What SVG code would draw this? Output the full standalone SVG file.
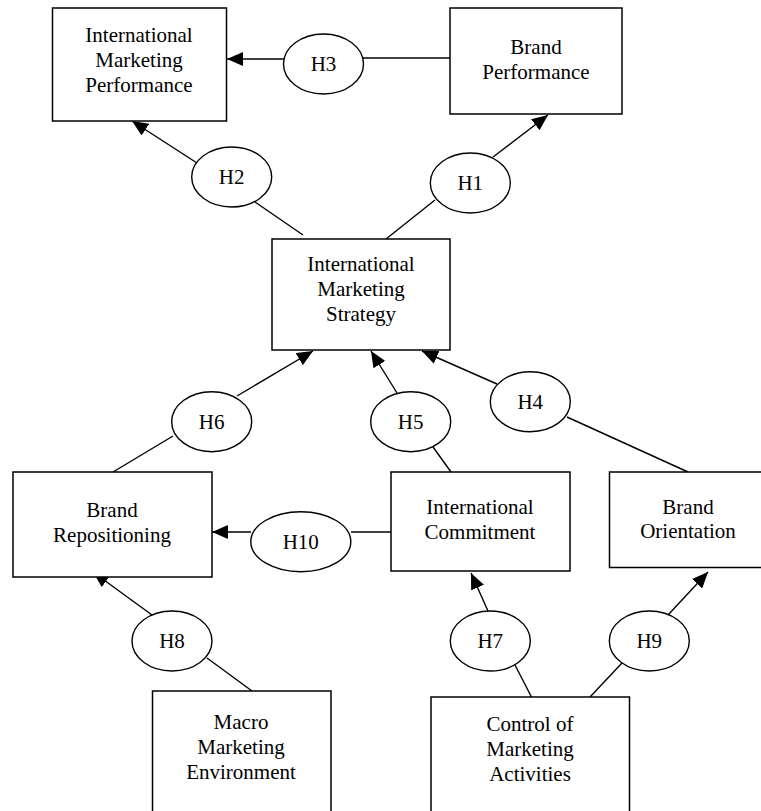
<svg xmlns="http://www.w3.org/2000/svg" width="761" height="811" viewBox="0 0 761 811">
<defs>
<marker id="ah" markerUnits="userSpaceOnUse" markerWidth="16" markerHeight="14" refX="16" refY="7" orient="auto">
<path d="M0,0 L16,7 L0,14 z" fill="#000"/>
</marker>
<style>
.box{fill:#fff;stroke:#000;stroke-width:1.5}
.ell{fill:#fff;stroke:#000;stroke-width:1.4}
.t{font-family:'Liberation Serif','DejaVu Serif',serif;font-size:21px;fill:#000;text-anchor:middle}
.c{stroke:#000;stroke-width:1.4;fill:none}
.a{marker-end:url(#ah)}
</style>
</defs>
<rect width="761" height="811" fill="#fff"/>
<g id="connectors">
<line class="c" x1="363" y1="58" x2="452" y2="58"/>
<line class="c a" x1="284" y1="59" x2="227" y2="59"/>
<line class="c a" x1="197" y1="163" x2="132" y2="121"/>
<line class="c" x1="255" y1="202" x2="303" y2="235"/>
<line class="c a" x1="493" y1="157" x2="548" y2="115"/>
<line class="c" x1="435" y1="200" x2="386" y2="239"/>
<line class="c a" x1="237" y1="396" x2="313" y2="351"/>
<line class="c" x1="173" y1="436" x2="113" y2="472"/>
<line class="c a" x1="397" y1="393" x2="371" y2="351"/>
<line class="c" x1="433" y1="447" x2="451" y2="472"/>
<line class="c a" x1="497" y1="384" x2="422" y2="351"/>
<line class="c" x1="567" y1="417" x2="688" y2="472"/>
<line class="c a" x1="251" y1="532" x2="212" y2="532"/>
<line class="c" x1="351" y1="532" x2="391" y2="532"/>
<line class="c a" x1="152" y1="615" x2="93" y2="572"/>
<line class="c" x1="207" y1="658" x2="252" y2="691"/>
<line class="c a" x1="488" y1="611" x2="471" y2="573"/>
<line class="c" x1="515" y1="665" x2="532" y2="698"/>
<line class="c a" x1="668" y1="615" x2="708" y2="572"/>
<line class="c" x1="622" y1="663" x2="590" y2="697"/>
</g>
<g id="imp"><rect class="box" x="52.5" y="8" width="174" height="113"/>
<text class="t" x="139" y="42">International</text><text class="t" x="139" y="67">Marketing</text><text class="t" x="139" y="92">Performance</text></g>
<g id="bp"><rect class="box" x="450" y="8" width="172" height="106"/>
<text class="t" x="536" y="54">Brand</text><text class="t" x="536" y="79">Performance</text></g>
<g id="ims"><rect class="box" x="272" y="239" width="178" height="111"/>
<text class="t" x="361" y="271">International</text><text class="t" x="361" y="296">Marketing</text><text class="t" x="361" y="321">Strategy</text></g>
<g id="br"><rect class="box" x="13" y="472" width="199" height="105"/>
<text class="t" x="112" y="517">Brand</text><text class="t" x="112" y="542">Repositioning</text></g>
<g id="ic"><rect class="box" x="391" y="472" width="179" height="99"/>
<text class="t" x="480" y="514">International</text><text class="t" x="480" y="539">Commitment</text></g>
<g id="bo"><rect class="box" x="609.5" y="472" width="160" height="95.5"/>
<text class="t" x="688" y="514">Brand</text><text class="t" x="688" y="538">Orientation</text></g>
<g id="mme"><rect class="box" x="152.5" y="691" width="178.5" height="140"/>
<text class="t" x="241" y="729">Macro</text><text class="t" x="241" y="754">Marketing</text><text class="t" x="241" y="779">Environment</text></g>
<g id="cma"><rect class="box" x="431" y="697" width="198.5" height="140"/>
<text class="t" x="530" y="731">Control of</text><text class="t" x="530" y="756">Marketing</text><text class="t" x="530" y="781">Activities</text></g>
<g id="h3"><ellipse class="ell" cx="323.5" cy="64" rx="40" ry="30"/><text class="t" x="323.5" y="71">H3</text></g>
<g id="h2"><ellipse class="ell" cx="231.7" cy="177" rx="40" ry="30"/><text class="t" x="231.7" y="184">H2</text></g>
<g id="h1"><ellipse class="ell" cx="470.3" cy="183" rx="40" ry="30"/><text class="t" x="470.3" y="190">H1</text></g>
<g id="h6"><ellipse class="ell" cx="211.7" cy="421.7" rx="40" ry="30"/><text class="t" x="211.7" y="429">H6</text></g>
<g id="h5"><ellipse class="ell" cx="410.7" cy="421.7" rx="40" ry="30"/><text class="t" x="410.7" y="429">H5</text></g>
<g id="h4"><ellipse class="ell" cx="530.3" cy="401.7" rx="40" ry="30"/><text class="t" x="530.3" y="409">H4</text></g>
<g id="h10"><ellipse class="ell" cx="300.8" cy="541.7" rx="50" ry="30"/><text class="t" x="300.8" y="549">H10</text></g>
<g id="h8"><ellipse class="ell" cx="172" cy="641" rx="40" ry="30"/><text class="t" x="172" y="648">H8</text></g>
<g id="h7"><ellipse class="ell" cx="490.3" cy="641" rx="40" ry="30"/><text class="t" x="490.3" y="648">H7</text></g>
<g id="h9"><ellipse class="ell" cx="649.3" cy="641" rx="40" ry="30"/><text class="t" x="649.3" y="648">H9</text></g>
</svg>
